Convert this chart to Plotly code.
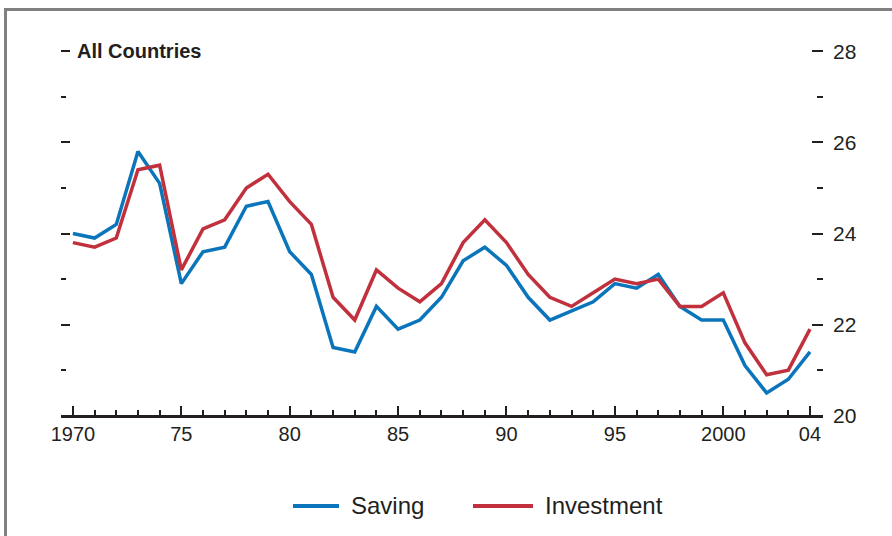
import plotly.graph_objects as go

years = list(range(1970, 2005))
saving = [24.0, 23.9, 24.2, 25.8, 25.1, 22.9, 23.6, 23.7, 24.6, 24.7,
          23.6, 23.1, 21.5, 21.4, 22.4, 21.9, 22.1, 22.6, 23.4, 23.7,
          23.3, 22.6, 22.1, 22.3, 22.5, 22.9, 22.8, 23.1, 22.4, 22.1,
          22.1, 21.1, 20.5, 20.8, 21.4]
investment = [23.8, 23.7, 23.9, 25.4, 25.5, 23.2, 24.1, 24.3, 25.0, 25.3,
              24.7, 24.2, 22.6, 22.1, 23.2, 22.8, 22.5, 22.9, 23.8, 24.3,
              23.8, 23.1, 22.6, 22.4, 22.7, 23.0, 22.9, 23.0, 22.4, 22.4,
              22.7, 21.6, 20.9, 21.0, 21.9]
xtick_vals = [1970, 1975, 1980, 1985, 1990, 1995, 2000, 2004]
xtick_text = ["1970", "75", "80", "85", "90", "95", "2000", "04"]
ytick_vals = [20, 22, 24, 26, 28]
title_text = "All Countries"
series_names = ["Saving", "Investment"]

FONT = "Liberation Sans, Arial, Helvetica, sans-serif"
INK = "#231f20"
BLUE = "#0b75bb"
RED = "#c1313d"
FRAME = "#808080"

fig = go.Figure()
fig.add_trace(go.Scatter(x=years, y=saving, mode="lines", name=series_names[0],
                         line=dict(color=BLUE, width=3.5)))
fig.add_trace(go.Scatter(x=years, y=investment, mode="lines", name=series_names[1],
                         line=dict(color=RED, width=3.5)))
# carrier trace for the left tick axis
fig.add_trace(go.Scatter(x=[years[0]], y=[saving[0]], yaxis="y2", mode="lines",
                         showlegend=False, hoverinfo="skip",
                         line=dict(color="rgba(0,0,0,0)")))

W, H = 892, 536
L, R, T, B = 61, 69, 49, 118
pw = W - L - R
ph = H - T - B
YR = [19.95, 28.05]
ppu = ph / (YR[1] - YR[0])
x_axis_pos = (20 - YR[0]) * ppu / ph


def px_x(x):
    return (x - L) / pw


def px_y(y):
    return (H - B - y) / ph


annotations = [
    dict(text="<b>" + title_text + "</b>", xref="paper", yref="paper",
         x=px_x(75), y=px_y(51), xanchor="left", yanchor="middle",
         showarrow=False, font=dict(size=20, family=FONT, color=INK)),
    dict(text=series_names[0], xref="paper", yref="paper",
         x=px_x(349), y=px_y(505), xanchor="left", yanchor="middle",
         showarrow=False, font=dict(size=24, family=FONT, color=INK)),
    dict(text=series_names[1], xref="paper", yref="paper",
         x=px_x(543), y=px_y(505), xanchor="left", yanchor="middle",
         showarrow=False, font=dict(size=24, family=FONT, color=INK)),
]

shapes = [
    dict(type="line", xref="paper", yref="paper", x0=px_x(4), x1=px_x(900),
         y0=px_y(9.5), y1=px_y(9.5), line=dict(color=FRAME, width=3)),
    dict(type="line", xref="paper", yref="paper", x0=px_x(5.5), x1=px_x(5.5),
         y0=px_y(8), y1=px_y(545), line=dict(color=FRAME, width=3)),
    dict(type="line", xref="paper", yref="paper", x0=px_x(293), x1=px_x(339),
         y0=px_y(506), y1=px_y(506), line=dict(color=BLUE, width=4)),
    dict(type="line", xref="paper", yref="paper", x0=px_x(473), x1=px_x(533),
         y0=px_y(506), y1=px_y(506), line=dict(color=RED, width=4)),
]

fig.update_layout(
    width=W, height=H,
    margin=dict(l=L, r=R, t=T, b=B),
    paper_bgcolor="white", plot_bgcolor="white",
    font=dict(family=FONT, color=INK, size=20),
    showlegend=False,
    xaxis=dict(range=[1969.45, 2004.6], showgrid=False, zeroline=False,
               anchor="free", position=x_axis_pos,
               showline=True, linecolor=INK, linewidth=2.5,
               ticks="inside", ticklen=9, tickwidth=2, tickcolor=INK,
               tickvals=xtick_vals, ticktext=xtick_text,
               tickfont=dict(size=20, family=FONT, color=INK),
               minor=dict(dtick=1, tick0=1970, ticks="inside", ticklen=5,
                          tickwidth=2, tickcolor=INK, showgrid=False)),
    yaxis=dict(range=YR, domain=[0, 1], side="right", showgrid=False, zeroline=False,
               showline=False, ticks="inside", ticklen=11, tickwidth=2,
               tickcolor=INK, tickvals=ytick_vals,
               tickfont=dict(size=21, family=FONT, color=INK),
               ticklabelstandoff=9,
               minor=dict(dtick=1, tick0=20, ticks="inside", ticklen=6,
                          tickwidth=2, tickcolor=INK, showgrid=False)),
    yaxis2=dict(range=YR, overlaying="y", side="left", showgrid=False,
                zeroline=False, showline=False, ticks="inside", ticklen=9,
                tickwidth=2, tickcolor=INK, tickvals=ytick_vals,
                showticklabels=False,
                minor=dict(dtick=1, tick0=20, ticks="inside", ticklen=5,
                           tickwidth=2, tickcolor=INK, showgrid=False)),
    annotations=annotations,
    shapes=shapes,
)

fig.write_html("out.html", config={"displayModeBar": False},
               post_script="document.body.style.margin='0px';")
